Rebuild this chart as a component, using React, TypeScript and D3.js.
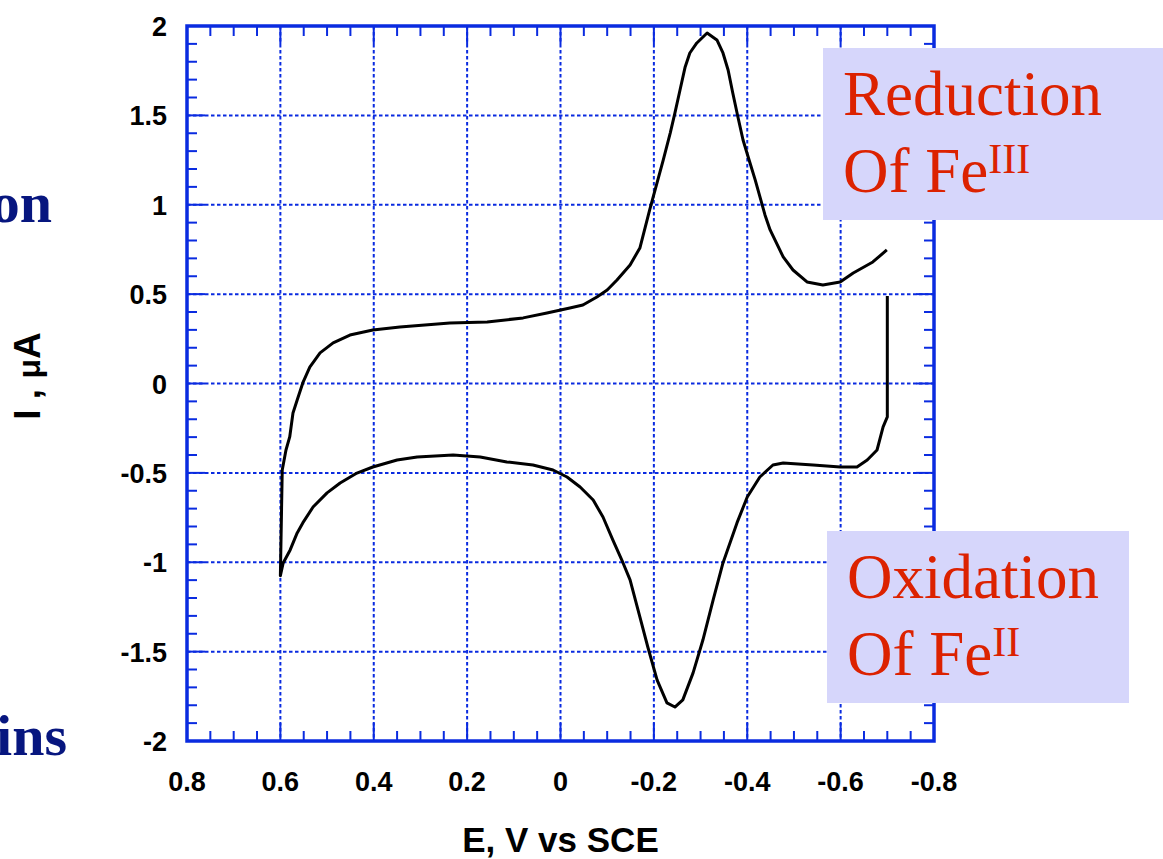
import React from "react";
import * as d3 from "d3";

// Cyclic voltammogram, E (V vs SCE) and I (µA)
const E_VALUES = [
  -0.70, -0.70, -0.691, -0.678, -0.657, -0.635, -0.599, -0.541, -0.477, -0.455,
  -0.427, -0.400, -0.378, -0.348, -0.327, -0.305, -0.284, -0.262, -0.245, -0.228,
  -0.207, -0.187, -0.170, -0.149, -0.134, -0.112, -0.091, -0.070, -0.042, -0.014,
  0.016, 0.059, 0.115, 0.172, 0.230, 0.307, 0.350, 0.402, 0.436, 0.472,
  0.500, 0.530, 0.552, 0.564, 0.579, 0.594, 0.600, 0.596, 0.588, 0.580,
  0.573, 0.564, 0.552, 0.537, 0.515, 0.487, 0.451, 0.402, 0.344, 0.237,
  0.157, 0.080, 0.029, -0.020, -0.048, -0.078, -0.100, -0.121, -0.149, -0.170,
  -0.191, -0.220, -0.235, -0.245, -0.256, -0.267, -0.277, -0.292, -0.314, -0.335,
  -0.348, -0.359, -0.369, -0.380, -0.391, -0.402, -0.417, -0.438, -0.449, -0.477,
  -0.498, -0.528, -0.562, -0.599, -0.627, -0.669, -0.699,
];
const I_VALUES = [
  0.49, -0.187, -0.243, -0.372, -0.428, -0.467, -0.467, -0.456, -0.445, -0.456,
  -0.523, -0.635, -0.780, -1.004, -1.211, -1.435, -1.619, -1.770, -1.810, -1.787,
  -1.659, -1.474, -1.306, -1.099, -1.004, -0.875, -0.747, -0.652, -0.579, -0.523,
  -0.484, -0.456, -0.439, -0.411, -0.400, -0.411, -0.428, -0.467, -0.501, -0.557,
  -0.612, -0.691, -0.780, -0.836, -0.931, -1.004, -1.075, -0.484, -0.372, -0.299,
  -0.165, -0.092, 0.003, 0.092, 0.171, 0.227, 0.271, 0.299, 0.316, 0.339,
  0.344, 0.367, 0.394, 0.422, 0.439, 0.484, 0.523, 0.579, 0.663, 0.758,
  0.971, 1.250, 1.401, 1.513, 1.642, 1.771, 1.849, 1.905, 1.961, 1.922,
  1.849, 1.754, 1.625, 1.491, 1.362, 1.267, 1.139, 0.943, 0.859, 0.708,
  0.635, 0.568, 0.551, 0.568, 0.618, 0.680, 0.747,
];

const X_TICKS = [0.8, 0.6, 0.4, 0.2, 0, -0.2, -0.4, -0.6, -0.8];
const X_TICK_LABELS = ["0.8", "0.6", "0.4", "0.2", "0", "-0.2", "-0.4", "-0.6", "-0.8"];
const Y_TICKS = [2, 1.5, 1, 0.5, 0, -0.5, -1, -1.5, -2];
const Y_TICK_LABELS = ["2", "1.5", "1", "0.5", "0", "-0.5", "-1", "-1.5", "-2"];
const X_TITLE = "E, V vs SCE";
const LEFT_FRAGMENTS = ["on", "ins"];

const W = 1163;
const H = 859;
const BLUE = "#0a2be0";
const RED = "#dc2200";
const BOX = "#d6d6fb";
const NAVY = "#07167f";

export default function App() {
  const x = d3.scaleLinear().domain([0.8, -0.8]).range([187, 934]);
  const y = d3.scaleLinear().domain([2, -2]).range([26, 741]);
  const [x0, x1] = x.range();
  const [y0, y1] = y.range();

  const xMinor = d3.range(0, 33).map((i) => 0.8 - i * 0.05);
  const yMinor = d3.range(0, 41).map((i) => 2 - i * 0.1);

  const pts: [number, number][] = E_VALUES.map((e, i) => [e, I_VALUES[i]]);
  const line = d3
    .line<[number, number]>()
    .x((d) => x(d[0]))
    .y((d) => y(d[1]))
    .curve(d3.curveLinear);

  const minorLen = 10;
  const majorLen = 18;
  const sans = "'Liberation Sans', Arial, Helvetica, sans-serif";
  const serif = "'Liberation Serif', 'Times New Roman', serif";

  return (
    <svg
      width={W}
      height={H}
      style={{ position: "absolute", left: 0, top: 0, background: "#fff" }}
      xmlns="http://www.w3.org/2000/svg"
    >
      {/* left cut-off slide text (cut at the page edge in the reference) */}
      <text x={52} y={222} textAnchor="end" fontFamily={serif} fontWeight="bold" fontSize={58} fill={NAVY}>
        {LEFT_FRAGMENTS[0]}
      </text>
      <text x={67} y={755} textAnchor="end" fontFamily={serif} fontWeight="bold" fontSize={58} fill={NAVY}>
        {LEFT_FRAGMENTS[1]}
      </text>

      {/* grid */}
      <g stroke={BLUE} strokeWidth={2} strokeDasharray="3.5,2.5">
        {X_TICKS.slice(1, -1).map((t) => (
          <line key={"gx" + t} x1={x(t)} x2={x(t)} y1={y0} y2={y1} />
        ))}
        {Y_TICKS.slice(1, -1).map((t) => (
          <line key={"gy" + t} x1={x0} x2={x1} y1={y(t)} y2={y(t)} />
        ))}
      </g>

      {/* ticks */}
      <g stroke={BLUE} strokeWidth={2}>
        {xMinor.map((t, i) => {
          const len = i % 4 === 0 ? majorLen : minorLen;
          return (
            <g key={"tx" + i}>
              <line x1={x(t)} x2={x(t)} y1={y0} y2={y0 + len} />
              <line x1={x(t)} x2={x(t)} y1={y1} y2={y1 - len} />
            </g>
          );
        })}
        {yMinor.map((t, i) => {
          const len = i % 5 === 0 ? majorLen : minorLen;
          return (
            <g key={"ty" + i}>
              <line x1={x0} x2={x0 + len} y1={y(t)} y2={y(t)} />
              <line x1={x1} x2={x1 - len} y1={y(t)} y2={y(t)} />
            </g>
          );
        })}
      </g>

      {/* frame */}
      <rect x={x0} y={y0} width={x1 - x0} height={y1 - y0} fill="none" stroke={BLUE} strokeWidth={3.5} />

      {/* curve */}
      <path d={line(pts) || ""} fill="none" stroke="#000" strokeWidth={3} strokeLinejoin="round" />

      {/* tick labels */}
      <g fontFamily={sans} fontWeight="bold" fontSize={27} fill="#000">
        {X_TICKS.map((t, i) => (
          <text key={"xl" + t} x={x(t)} y={791} textAnchor="middle">
            {X_TICK_LABELS[i]}
          </text>
        ))}
        {Y_TICKS.map((t, i) => (
          <text key={"yl" + t} x={167} y={y(t) + 10} textAnchor="end">
            {Y_TICK_LABELS[i]}
          </text>
        ))}
      </g>

      {/* axis titles */}
      <text x={x(0)} y={852} textAnchor="middle" fontFamily={sans} fontWeight="bold" fontSize={35} fill="#000">
        {X_TITLE}
      </text>
      <text
        transform={`translate(40, ${376}) rotate(-90)`}
        textAnchor="middle"
        fontFamily={sans}
        fontWeight="bold"
        fontSize={37}
        fill="#000"
      >
        {"I , "}
        <tspan fontSize={32}>{"\u03BC"}</tspan>
        {"A"}
      </text>

      {/* annotation boxes */}
      <rect x={823} y={48} width={340} height={172} fill={BOX} />
      <text x={843} y={115} fontFamily={serif} fontSize={63} fill={RED}>
        Reduction
      </text>
      <text x={843} y={192} fontFamily={serif} fontSize={63} fill={RED}>
        Of Fe
        <tspan fontSize={42} dy={-19}>III</tspan>
      </text>

      <rect x={827} y={531} width={302} height={172} fill={BOX} />
      <text x={847} y={598} fontFamily={serif} fontSize={63} fill={RED}>
        Oxidation
      </text>
      <text x={847} y={675} fontFamily={serif} fontSize={63} fill={RED}>
        Of Fe
        <tspan fontSize={42} dy={-19}>II</tspan>
      </text>
    </svg>
  );
}
